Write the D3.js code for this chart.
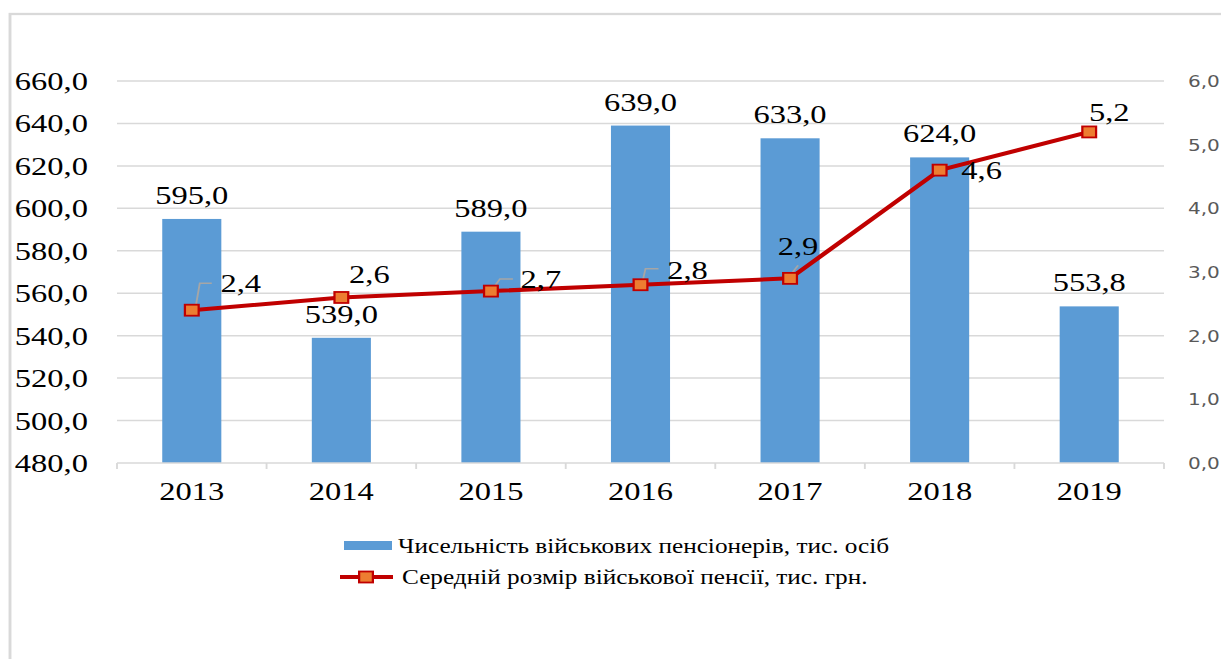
<!DOCTYPE html>
<html>
<head>
<meta charset="utf-8">
<script src="https://cdn.jsdelivr.net/npm/d3@7"></script>
<style>
  body { margin: 0; background: #fff; }
  svg { display: block; }
</style>
</head>
<body>
<div id="chart"></div>
<script>
// data
var years = ["2013", "2014", "2015", "2016", "2017", "2018", "2019"];
var pensioners = [595.0, 539.0, 589.0, 639.0, 633.0, 624.0, 553.8];
var avgPension = [2.4, 2.6, 2.7, 2.8, 2.9, 4.6, 5.2];
var leftTicks = [480, 500, 520, 540, 560, 580, 600, 620, 640, 660];
var rightTicks = [0, 1, 2, 3, 4, 5, 6];
var seriesNames = ["Чисельність військових пенсіонерів, тис. осіб",
                   "Середній розмір військової пенсії, тис. грн."];

// where the line value labels sit (screen px, relative to the point)
var lineLabelPos = [
  { dx: 49, dy: -18, leader: [[4, -4], [8, -27], [20, -27]] },
  { dx: 28, dy: -14, leader: null },
  { dx: 50, dy: -3, leader: [[3, -4], [9, -12], [22, -12]] },
  { dx: 47, dy: -6, leader: [[2, -3], [5, -16], [18, -16]] },
  { dx: 8, dy: -23, leader: [[0, -3], [8, -13]] },
  { dx: 42, dy: 9, leader: null },
  { dx: 20, dy: -11, leader: null }
];

var W = 1221, H = 659;
var SX = 1.25; // the picture is stretched horizontally
var serif = '"Liberation Serif", "Times New Roman", "DejaVu Serif", serif';
var plotL = 117, plotR = 1164, plotT = 81, plotB = 463;

var svg = d3.select('#chart').append('svg')
  .attr('width', W).attr('height', H);
var g = svg.append('g').attr('transform', 'scale(' + SX + ',1)');

// outer frame
g.append('rect')
  .attr('x', 10 / SX).attr('y', 14)
  .attr('width', W).attr('height', H + 20)
  .attr('fill', 'none').attr('stroke', '#d9d9d9').attr('stroke-width', 2.3);

var x = d3.scaleBand().domain(years)
  .range([plotL / SX, plotR / SX]).padding(0);
var yL = d3.scaleLinear().domain([480, 660]).range([plotB, plotT]);
var yR = d3.scaleLinear().domain([0, 6]).range([plotB, plotT]);

var fmt = function(v) { return d3.format('.1f')(v).replace('.', ','); };
var cx = function(i) { return x(years[i]) + x.bandwidth() / 2; };

// gridlines
g.append('g').selectAll('line')
  .data(leftTicks.slice(1))
  .enter().append('line')
  .attr('x1', x.range()[0]).attr('x2', x.range()[1])
  .attr('y1', function(d) { return yL(d); })
  .attr('y2', function(d) { return yL(d); })
  .attr('stroke', '#d9d9d9').attr('stroke-width', 1.5);

// left axis labels
g.append('g').selectAll('text')
  .data(leftTicks)
  .enter().append('text')
  .attr('x', 88 / SX).attr('y', function(d) { return yL(d) + 9; })
  .attr('text-anchor', 'end')
  .style('font-family', serif)
  .attr('font-size', 26)
  .text(fmt);

// right axis labels
g.append('g').selectAll('text')
  .data(rightTicks)
  .enter().append('text')
  .attr('x', 1188 / SX).attr('y', function(d) { return yR(d) + 6; })
  .style('font-family', '"DejaVu Sans", Verdana, sans-serif')
  .attr('font-size', 16)
  .attr('fill', '#595959')
  .text(fmt);

// bars
var barW = x.bandwidth() * 0.395;
g.append('g').selectAll('rect')
  .data(pensioners)
  .enter().append('rect')
  .attr('x', function(d, i) { return cx(i) - barW / 2; })
  .attr('y', function(d) { return yL(d); })
  .attr('width', barW)
  .attr('height', function(d) { return yL(480) - yL(d); })
  .attr('fill', '#5b9bd5');

// x axis line and ticks
var xa = g.append('g');
xa.append('line')
  .attr('x1', x.range()[0]).attr('x2', x.range()[1])
  .attr('y1', plotB).attr('y2', plotB)
  .attr('stroke', '#d9d9d9').attr('stroke-width', 1.5);
xa.selectAll('line.tk')
  .data(years.concat(['end']))
  .enter().append('line')
  .attr('class', 'tk')
  .attr('x1', function(d) { return d === 'end' ? x.range()[1] : x(d); })
  .attr('x2', function(d) { return d === 'end' ? x.range()[1] : x(d); })
  .attr('y1', plotB).attr('y2', plotB + 6)
  .attr('stroke', '#d9d9d9').attr('stroke-width', 1.5);
xa.selectAll('text')
  .data(years)
  .enter().append('text')
  .attr('x', function(d, i) { return cx(i); })
  .attr('y', 500)
  .attr('text-anchor', 'middle')
  .style('font-family', serif)
  .attr('font-size', 26)
  .text(function(d) { return d; });

// bar labels
g.append('g').selectAll('text')
  .data(pensioners)
  .enter().append('text')
  .attr('x', function(d, i) { return cx(i); })
  .attr('y', function(d) { return yL(d) - 15; })
  .attr('text-anchor', 'middle')
  .style('font-family', serif)
  .attr('font-size', 26)
  .text(fmt);

// line
var line = d3.line()
  .x(function(d, i) { return cx(i); })
  .y(function(d) { return yR(d); });
g.append('path')
  .datum(avgPension)
  .attr('d', line)
  .attr('fill', 'none')
  .attr('stroke', '#c00000')
  .attr('stroke-width', 4)
  .attr('stroke-linejoin', 'round');

// leader lines
avgPension.forEach(function(d, i) {
  var p = lineLabelPos[i];
  if (!p.leader) return;
  var pts = p.leader.map(function(o) { return [cx(i) + o[0] / SX, yR(d) + o[1]]; });
  g.append('path')
    .attr('d', d3.line()(pts))
    .attr('fill', 'none').attr('stroke', '#a6a6a6').attr('stroke-width', 1.5);
});

// markers
g.append('g').selectAll('rect')
  .data(avgPension)
  .enter().append('rect')
  .attr('x', function(d, i) { return cx(i) - 5.5; })
  .attr('y', function(d) { return yR(d) - 5.5; })
  .attr('width', 11).attr('height', 11)
  .attr('fill', '#ed7d31')
  .attr('stroke', '#c00000').attr('stroke-width', 1.8);

// line labels
g.append('g').selectAll('text')
  .data(avgPension)
  .enter().append('text')
  .attr('x', function(d, i) { return cx(i) + lineLabelPos[i].dx / SX; })
  .attr('y', function(d, i) { return yR(d) + lineLabelPos[i].dy; })
  .attr('text-anchor', 'middle')
  .style('font-family', serif)
  .attr('font-size', 26)
  .text(fmt);

// legend
var lg = g.append('g');
lg.append('rect')
  .attr('x', 344 / SX).attr('y', 541).attr('width', 48 / SX).attr('height', 9)
  .attr('fill', '#5b9bd5');
lg.append('text')
  .attr('x', 398 / SX).attr('y', 553)
  .style('font-family', serif)
  .attr('font-size', 20.2)
  .text(seriesNames[0]);
lg.append('line')
  .attr('x1', 340 / SX).attr('x2', 393 / SX).attr('y1', 577).attr('y2', 577)
  .attr('stroke', '#c00000').attr('stroke-width', 4);
lg.append('rect')
  .attr('x', 366 / SX - 5.5).attr('y', 571.5).attr('width', 11).attr('height', 11)
  .attr('fill', '#ed7d31')
  .attr('stroke', '#c00000').attr('stroke-width', 1.8);
lg.append('text')
  .attr('x', 402 / SX).attr('y', 584)
  .style('font-family', serif)
  .attr('font-size', 20.2)
  .text(seriesNames[1]);
</script>
</body>
</html>
